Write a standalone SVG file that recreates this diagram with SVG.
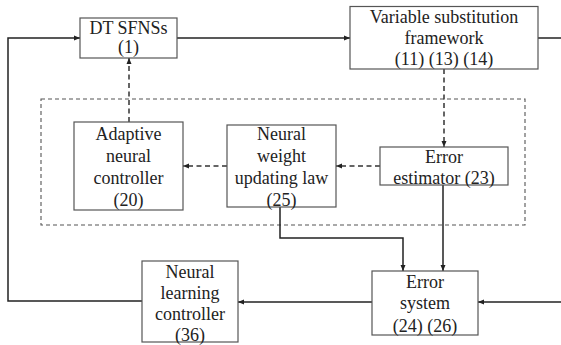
<svg xmlns="http://www.w3.org/2000/svg" width="561" height="345" viewBox="0 0 561 345">
<defs>
<marker id="ah" markerWidth="6" markerHeight="6" refX="6" refY="3" orient="auto" markerUnits="userSpaceOnUse">
<path d="M0,0.5 L6,3 L0,5.5 Z" fill="#222"/>
</marker>
<style>
.box{fill:#fff;stroke:#555;stroke-width:1.2}
.t{font-size:18px;fill:#222;text-anchor:middle}
.c{fill:none;stroke:#222;stroke-width:1.5}
.d{fill:none;stroke:#333;stroke-width:1.5;stroke-dasharray:5,3.5}
.frame{fill:none;stroke:#555;stroke-width:1.1;stroke-dasharray:4,3}
</style>
</defs>
<rect width="561" height="345" fill="#fff"/>
<rect class="frame" x="41" y="99" width="484" height="126"/>
<g id="connectors">
<path class="c" d="M142,301 H8 V38 H80" marker-end="url(#ah)"/>
<path class="c" d="M177,38 H350" marker-end="url(#ah)"/>
<path class="c" d="M538,38 H561"/>
<path class="d" d="M444,69 V147" marker-end="url(#ah)"/>
<path class="d" d="M380,166 H336" marker-end="url(#ah)"/>
<path class="d" d="M227,166 H183" marker-end="url(#ah)"/>
<path class="d" d="M129,122 V58" marker-end="url(#ah)"/>
<path class="c" d="M280,207 V238 H403 V271" marker-end="url(#ah)"/>
<path class="c" d="M443,185 V271" marker-end="url(#ah)"/>
<path class="c" d="M561,302 H478" marker-end="url(#ah)"/>
<path class="c" d="M372,302 H238" marker-end="url(#ah)"/>
</g>
<g font-family="'Liberation Serif', 'Times New Roman', Times, serif">
<g id="dt">
<rect class="box" x="80" y="18" width="97" height="40"/>
<text class="t" x="128.5" y="34">DT SFNSs</text>
<text class="t" x="128.5" y="53">(1)</text>
</g>
<g id="vsf">
<rect class="box" x="350" y="6.5" width="188" height="62.5"/>
<text class="t" x="444" y="23">Variable substitution</text>
<text class="t" x="444" y="44">framework</text>
<text class="t" x="444" y="65">(11) (13) (14)</text>
</g>
<g id="anc">
<rect class="box" x="74" y="122" width="109" height="88"/>
<text class="t" x="128.5" y="140">Adaptive</text>
<text class="t" x="128.5" y="162">neural</text>
<text class="t" x="128.5" y="184">controller</text>
<text class="t" x="128.5" y="206">(20)</text>
</g>
<g id="nwu">
<rect class="box" x="227" y="125" width="109" height="82"/>
<text class="t" x="281.5" y="140">Neural</text>
<text class="t" x="281.5" y="162">weight</text>
<text class="t" x="281.5" y="184">updating law</text>
<text class="t" x="281.5" y="206">(25)</text>
</g>
<g id="ee">
<rect class="box" x="380" y="147" width="128" height="38"/>
<text class="t" x="444" y="163">Error</text>
<text class="t" x="444" y="184">estimator (23)</text>
</g>
<g id="es">
<rect class="box" x="372" y="271" width="106" height="64"/>
<text class="t" x="425" y="288">Error</text>
<text class="t" x="425" y="309">system</text>
<text class="t" x="425" y="332">(24) (26)</text>
</g>
<g id="nlc">
<rect class="box" x="142" y="261" width="96" height="81"/>
<text class="t" x="190" y="278">Neural</text>
<text class="t" x="190" y="299">learning</text>
<text class="t" x="190" y="320">controller</text>
<text class="t" x="190" y="341">(36)</text>
</g>
</g>
</svg>
